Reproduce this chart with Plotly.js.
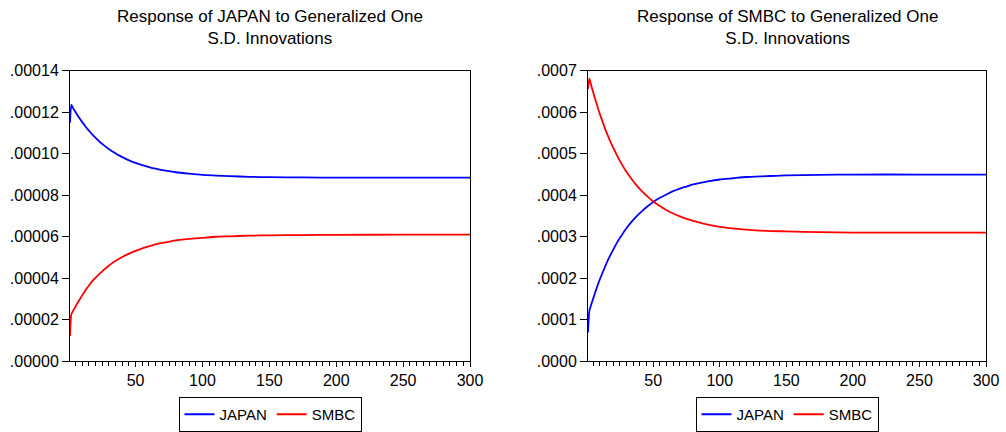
<!DOCTYPE html>
<html>
<head>
<meta charset="utf-8">
<script src="https://cdn.plot.ly/plotly-3.0.1.min.js"></script>
<style>html,body{margin:0;padding:0;background:#fff;}#chart{width:1006px;height:432px;}</style>
</head>
<body>
<div id="chart"></div>
<script>
// Periods (horizon)
const periods = [1,2,3,4,5,6,8,10,12,14,16,18,20,23,26,30,34,38,42,46,50,55,60,65,70,75,80,90,100,110,120,135,150,175,200,250,300];

// Response of JAPAN
const japanOnJapan = [0.0001150,0.0001236,0.0001224,0.0001213,0.0001203,0.0001192,0.0001172,0.0001154,0.0001137,0.0001120,0.0001105,0.0001091,0.0001078,0.0001059,0.0001043,0.0001023,0.0001006,0.0000991,0.0000978,0.0000966,0.0000956,0.0000945,0.0000936,0.0000928,0.0000921,0.0000916,0.0000911,0.0000904,0.0000898,0.0000895,0.0000892,0.0000889,0.0000887,0.0000886,0.0000885,0.0000885,0.0000885];
const japanOnSmbc  = [0.0000122,0.0000226,0.0000239,0.0000251,0.0000262,0.0000274,0.0000295,0.0000316,0.0000336,0.0000355,0.0000372,0.0000388,0.0000402,0.0000421,0.0000439,0.0000460,0.0000479,0.0000495,0.0000509,0.0000521,0.0000532,0.0000544,0.0000554,0.0000563,0.0000570,0.0000576,0.0000582,0.0000590,0.0000595,0.0000600,0.0000602,0.0000605,0.0000607,0.0000608,0.0000609,0.0000610,0.0000610];

// Response of SMBC
const smbcOnJapan = [0.000069,0.000121,0.000132,0.000142,0.000152,0.000162,0.000181,0.000198,0.000214,0.000229,0.000244,0.000257,0.000269,0.000287,0.000302,0.000321,0.000337,0.000351,0.000363,0.000374,0.000384,0.000394,0.000402,0.000410,0.000416,0.000421,0.000426,0.000433,0.000438,0.000441,0.000444,0.000446,0.000448,0.000449,0.000450,0.000450,0.000450];
const smbcOnSmbc  = [0.000656,0.000682,0.000670,0.000658,0.000647,0.000636,0.000615,0.000595,0.000577,0.000559,0.000543,0.000528,0.000514,0.000495,0.000477,0.000456,0.000438,0.000422,0.000408,0.000396,0.000385,0.000374,0.000364,0.000356,0.000349,0.000343,0.000338,0.000330,0.000324,0.000320,0.000317,0.000314,0.000313,0.000311,0.000310,0.000310,0.000310];

// Tick labels
const leftTickVals = [0,0.00002,0.00004,0.00006,0.00008,0.00010,0.00012,0.00014];
const leftTickText = [".00000",".00002",".00004",".00006",".00008",".00010",".00012",".00014"];
const rightTickVals = [0,0.0001,0.0002,0.0003,0.0004,0.0005,0.0006,0.0007];
const rightTickText = [".0000",".0001",".0002",".0003",".0004",".0005",".0006",".0007"];
const xTickVals = [50,100,150,200,250,300];

const blue = "#0000ff", red = "#ff0000";
const font = {family: "Liberation Sans, Arial, sans-serif", color: "#000"};

const traces = [
  {x: periods, y: japanOnJapan, type: "scatter", mode: "lines", name: "JAPAN", line: {color: blue, width: 1.8, shape: "spline", smoothing: 0.6}, xaxis: "x", yaxis: "y", legend: "legend"},
  {x: periods, y: japanOnSmbc, type: "scatter", mode: "lines", name: "SMBC", line: {color: red, width: 1.8, shape: "spline", smoothing: 0.6}, xaxis: "x", yaxis: "y", legend: "legend"},
  {x: periods, y: smbcOnJapan, type: "scatter", mode: "lines", name: "JAPAN", line: {color: blue, width: 1.8, shape: "spline", smoothing: 0.6}, xaxis: "x2", yaxis: "y2", legend: "legend2"},
  {x: periods, y: smbcOnSmbc, type: "scatter", mode: "lines", name: "SMBC", line: {color: red, width: 1.8, shape: "spline", smoothing: 0.6}, xaxis: "x2", yaxis: "y2", legend: "legend2"}
];

const xBase = {
  range: [1, 300], tickvals: xTickVals, ticks: "outside", ticklen: 5, tickcolor: "#000",
  minor: {dtick: 5, tick0: 0, ticks: "outside", ticklen: 4, tickcolor: "#000"},
  showgrid: false, zeroline: false, showline: true, linecolor: "#000", linewidth: 1, mirror: true,
  tickfont: Object.assign({size: 16}, font), fixedrange: true
};
const yBase = {
  ticks: "outside", ticklen: 7, tickcolor: "#000",
  showgrid: false, zeroline: false, showline: true, linecolor: "#000", linewidth: 1, mirror: true,
  tickfont: Object.assign({size: 16}, font), fixedrange: true
};

const layout = {
  width: 1006, height: 432,
  margin: {l: 0, r: 0, t: 0, b: 0},
  paper_bgcolor: "#fff", plot_bgcolor: "#fff",
  font: font,
  xaxis: Object.assign({}, xBase, {domain: [70/1006, 470/1006], anchor: "y"}),
  yaxis: Object.assign({}, yBase, {domain: [1-362/432, 1-71/432], range: [0, 0.00014], tickvals: leftTickVals, ticktext: leftTickText, anchor: "x"}),
  xaxis2: Object.assign({}, xBase, {domain: [588/1006, 986/1006], anchor: "y2"}),
  yaxis2: Object.assign({}, yBase, {domain: [1-362/432, 1-71/432], range: [0, 0.0007], tickvals: rightTickVals, ticktext: rightTickText, anchor: "x2"}),
  legend: {orientation: "h", x: 270/1006, xanchor: "center", y: 1-415/432, yanchor: "middle",
    bordercolor: "#000", borderwidth: 1, font: Object.assign({size: 15}, font), itemwidth: 30, tracegroupgap: 0},
  legend2: {orientation: "h", x: 787/1006, xanchor: "center", y: 1-415/432, yanchor: "middle",
    bordercolor: "#000", borderwidth: 1, font: Object.assign({size: 15}, font), itemwidth: 30, tracegroupgap: 0},
  showlegend: true,
  annotations: [
    {text: "Response of JAPAN to Generalized One<br>S.D. Innovations", xref: "paper", yref: "paper",
     x: 270/1006, y: 1-5/432, xanchor: "center", yanchor: "top", showarrow: false, font: Object.assign({size: 17}, font)},
    {text: "Response of SMBC to Generalized One<br>S.D. Innovations", xref: "paper", yref: "paper",
     x: 787/1006, y: 1-5/432, xanchor: "center", yanchor: "top", showarrow: false, font: Object.assign({size: 17}, font)}
  ]
};

Plotly.newPlot("chart", traces, layout, {displayModeBar: false, staticPlot: true});
</script>
</body>
</html>
